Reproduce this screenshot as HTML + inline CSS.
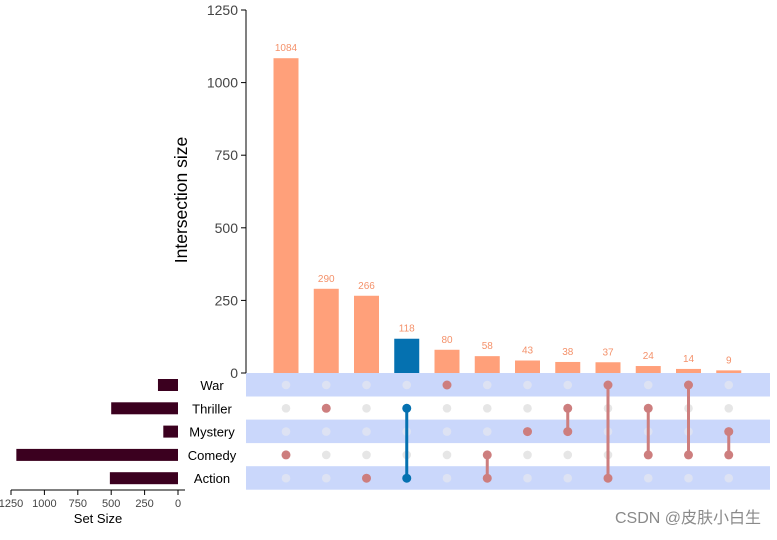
<!DOCTYPE html>
<html><head><meta charset="utf-8"><style>
body{margin:0;background:#fff;font-family:"Liberation Sans",Arial,sans-serif}
svg text{font-family:"Liberation Sans",Arial,sans-serif}
</style></head><body>
<svg id="c" width="777" height="535"></svg>
<script>
const sets=["War","Thriller","Mystery","Comedy","Action"];
const setSizes=[150,500,110,1210,510];
const counts=[1084,290,266,118,80,58,43,38,37,24,14,9];
const members=[["Comedy"],["Thriller"],["Action"],["Thriller","Action"],["War"],["Comedy","Action"],["Mystery"],["Thriller","Mystery"],["War","Action"],["Thriller","Comedy"],["War","Comedy"],["Mystery","Comedy"]];
const highlight=[false,false,false,true,false,false,false,false,false,false,false,false];
const yTicks=[0,250,500,750,1000,1250];
const setTicks=[1250,1000,750,500,250,0];

const NS="http://www.w3.org/2000/svg";
const svg=document.getElementById('c');
function el(t,a,txt){const e=document.createElementNS(NS,t);for(const k in a)e.setAttribute(k,a[k]);if(txt!==undefined)e.textContent=txt;svg.appendChild(e);return e;}
const y=v=>373-v*363/1250;
const x=i=>286+i*40.25;
const rowY=i=>385+i*23.3;
const sx=v=>178-v*167/1250;

[0,2,4].forEach(i=>{const b=el('rect',{x:246,y:rowY(i)-12,width:524,height:23.5,fill:'#cad7fb'});

});
const ax=el('line',{x1:246,y1:10,x2:246,y2:373,stroke:'#000'});


yTicks.forEach(t=>{el('line',{x1:241,x2:246,y1:y(t),y2:y(t),stroke:'#000'});
const tx=el('text',{x:238,y:y(t)+5,'text-anchor':'end','font-size':14,fill:'#444'},t);

});
const yt=el('text',{x:187,y:200,'text-anchor':'middle','font-size':17.5,fill:'#000',transform:'rotate(-90 187 200)'},'Intersection size');


counts.forEach((c,i)=>{const col=highlight[i]?'#0571b0':'#ffa07a';
const r=el('rect',{x:x(i)-12.5,y:y(c),width:25,height:373-y(c),fill:col});


const t=el('text',{x:x(i),y:y(c)-7,'text-anchor':'middle','font-size':10,fill:'#f4916a'},c);

});
members.forEach((m,i)=>{const col=highlight[i]?'#0571b0':'#cd7e7e';
const idx=m.map(s=>sets.indexOf(s));
sets.forEach((s,j)=>{if(!idx.includes(j)){const d=el('circle',{cx:x(i),cy:rowY(j),r:4.3,fill:j%2===0?'#dde2f3':'#e6e6e6'});

}});
if(idx.length>1){const l=el('line',{x1:x(i),x2:x(i),y1:rowY(Math.min(...idx)),y2:rowY(Math.max(...idx)),stroke:col,'stroke-width':3});

}
idx.forEach(j=>{const d=el('circle',{cx:x(i),cy:rowY(j),r:4.5,fill:col});

});});
sets.forEach((s,i)=>{const r=el('rect',{x:sx(setSizes[i]),y:rowY(i)-6,width:178-sx(setSizes[i]),height:12,fill:'#3b001f'});


const t=el('text',{x:212,y:rowY(i)+5,'text-anchor':'middle','font-size':13,fill:'#000'},s);

});
const sa=el('line',{x1:11,x2:185,y1:490,y2:490,stroke:'#000'});


setTicks.forEach(t=>{el('line',{x1:sx(t),x2:sx(t),y1:490,y2:495,stroke:'#000'});
const tx=el('text',{x:sx(t),y:507,'text-anchor':'middle','font-size':11,fill:'#444'},t);

});
const st=el('text',{x:98,y:523,'text-anchor':'middle','font-size':13,fill:'#000'},'Set Size');


const wm=el('text',{x:761,y:523,'text-anchor':'end','font-size':16,fill:'#8a8a8a','font-family':'"Liberation Sans","Noto Sans CJK SC",sans-serif'},'CSDN @皮肤小白生');


</script></body></html>
